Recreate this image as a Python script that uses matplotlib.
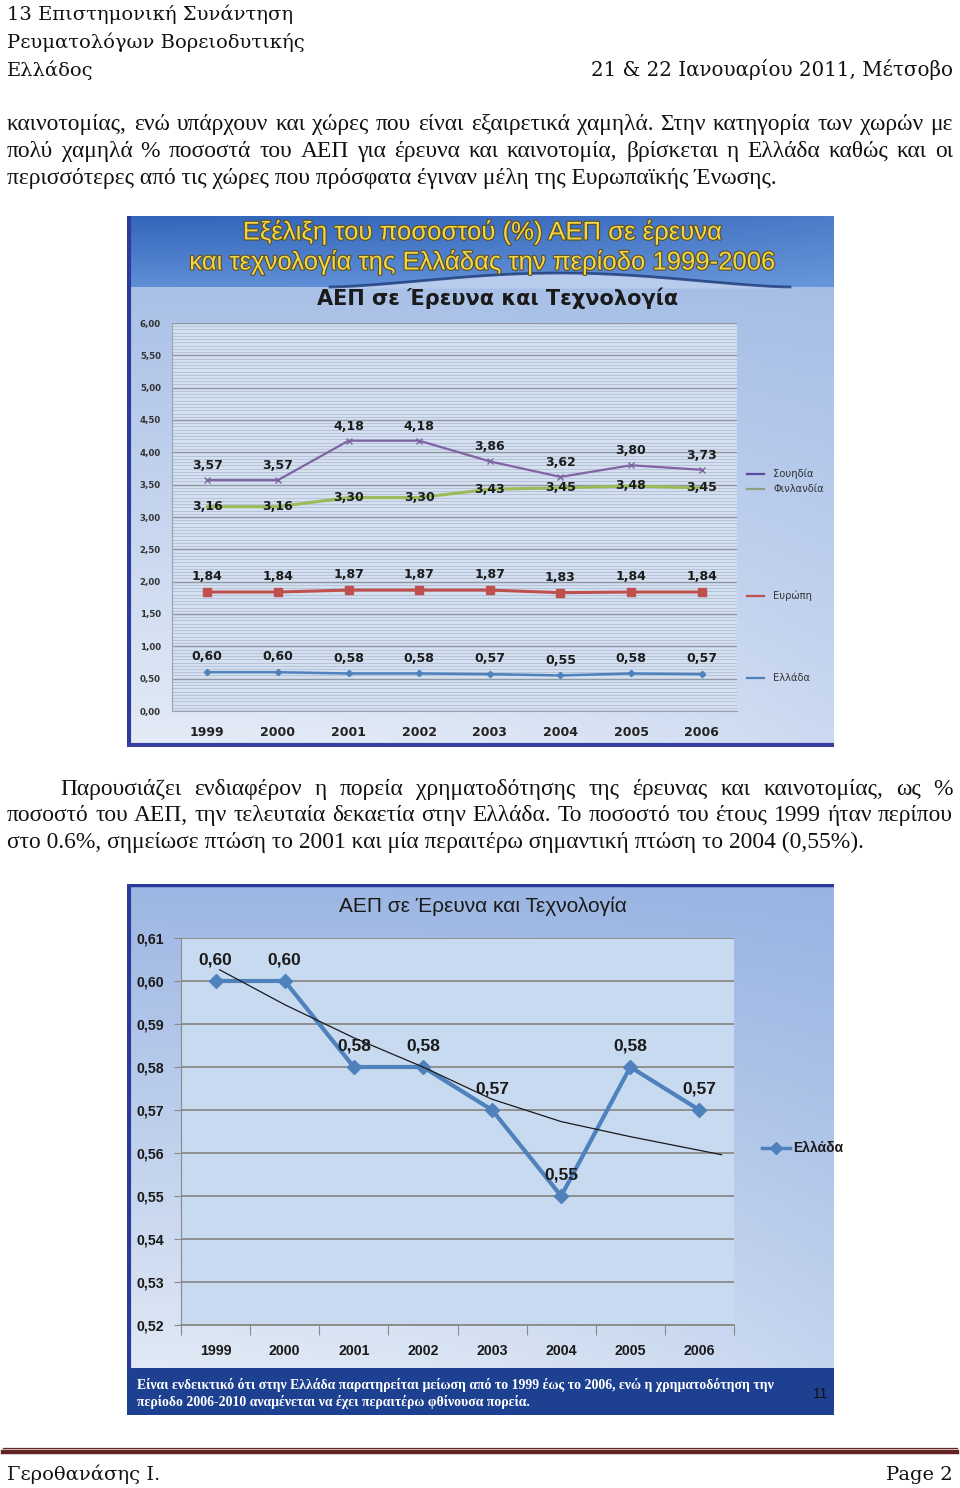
import matplotlib
matplotlib.use('Agg')
import matplotlib.pyplot as plt
import numpy as np
import matplotlib.patheffects as pe
from matplotlib.ticker import FuncFormatter, MultipleLocator, FixedLocator
from matplotlib.colors import to_rgb

# ---------------- data ----------------
years = ['1999', '2000', '2001', '2002', '2003', '2004', '2005', '2006']
sweden = [3.57, 3.57, 4.18, 4.18, 3.86, 3.62, 3.80, 3.73]
finland = [3.16, 3.16, 3.30, 3.30, 3.43, 3.45, 3.48, 3.45]
europe = [1.84, 1.84, 1.87, 1.87, 1.87, 1.83, 1.84, 1.84]
greece = [0.60, 0.60, 0.58, 0.58, 0.57, 0.55, 0.58, 0.57]
# trend line of chart 2 (x in years after 1999)
trend_pos = [0.06, 1.0, 2.0, 3.0, 4.0, 5.0, 6.0, 7.32]
trend_val = [0.6026, 0.5945, 0.5868, 0.5800, 0.5725, 0.5673, 0.5638, 0.5596]

series1_names = ['Σουηδία', 'Φινλανδία', 'Ευρώπη', 'Ελλάδα']

# ---------------- texts ----------------
header_left = ['13 Επιστημονική Συνάντηση', 'Ρευματολόγων Βορειοδυτικής', 'Ελλάδος']
header_right = '21 & 22 Ιανουαρίου 2011, Μέτσοβο'
para1 = ['καινοτομίας, ενώ υπάρχουν και χώρες που είναι εξαιρετικά χαμηλά. Στην κατηγορία των χωρών με',
         'πολύ χαμηλά % ποσοστά του ΑΕΠ για έρευνα και καινοτομία, βρίσκεται η Ελλάδα καθώς και οι',
         'περισσότερες από τις χώρες που πρόσφατα έγιναν μέλη της Ευρωπαϊκής Ένωσης.']
para2 = ['Παρουσιάζει ενδιαφέρον η πορεία χρηματοδότησης της έρευνας και καινοτομίας, ως %',
         'ποσοστό του ΑΕΠ, την τελευταία δεκαετία στην Ελλάδα. Το ποσοστό του έτους 1999 ήταν περίπου',
         'στο 0.6%, σημείωσε πτώση το 2001 και μία περαιτέρω σημαντική πτώση το 2004 (0,55%).']
band_title = ['Εξέλιξη του ποσοστού (%) ΑΕΠ σε έρευνα',
              'και τεχνολογία της Ελλάδας την περίοδο 1999-2006']
chart_title = 'ΑΕΠ σε Έρευνα και Τεχνολογία'
note_lines = ['Είναι ενδεικτικό ότι στην Ελλάδα παρατηρείται μείωση από το 1999 έως το 2006, ενώ η χρηματοδότηση την',
              'περίοδο 2006-2010 αναμένεται να έχει περαιτέρω φθίνουσα πορεία.']

W, H = 960, 1488
fig = plt.figure(figsize=(9.6, 14.88), dpi=100)
fig.patch.set_facecolor('white')
pg = fig.add_axes([0, 0, 1, 1], zorder=0)
pg.set_xlim(0, W); pg.set_ylim(H, 0); pg.axis('off')
renderer = fig.canvas.get_renderer()

SERIF_H = ['DejaVu Serif']
SERIF_B = ['Liberation Serif', 'DejaVu Serif']
SANS = ['Liberation Sans', 'DejaVu Sans']


def px_axes(l, t, r, b, z=1):
    return fig.add_axes([l / W, 1 - b / H, (r - l) / W, (b - t) / H], zorder=z)


def justify(line, y, x0, x1, **kw):
    words = line.split(' ')
    texts = [pg.text(0, y, w, va='baseline', ha='left', **kw) for w in words]
    widths = [t.get_window_extent(renderer).width for t in texts]
    gap = (x1 - x0 - sum(widths)) / max(len(words) - 1, 1)
    x = x0
    for t, w in zip(texts, widths):
        t.set_x(x)
        x += w + gap


# ---------------- header ----------------
for i, s in enumerate(header_left):
    pg.text(7, 20 + 28 * i, s, fontsize=14, family=SERIF_H, va='baseline', color='#111')
pg.text(953, 76, header_right, fontsize=14.3, family=SERIF_H, va='baseline', ha='right', color='#111')

# ---------------- paragraph 1 ----------------
body_kw = dict(fontsize=16.9, family=SERIF_B, color='#111')
justify(para1[0], 130, 7, 953, **body_kw)
justify(para1[1], 157, 7, 953, **body_kw)
pg.text(7, 184, para1[2], va='baseline', **body_kw)

# ---------------- paragraph 2 ----------------
justify(para2[0], 795, 60, 953, **body_kw)
justify(para2[1], 821, 7, 953, **body_kw)
pg.text(7, 848, para2[2], va='baseline', **body_kw)


def vgrad(c_top, c_bot, n=256, w=2, c_right=None):
    a = np.array(to_rgb(c_top)); b = np.array(to_rgb(c_bot))
    t = np.linspace(0, 1, n)[:, None, None]
    img = a * (1 - t) + b * t
    img = np.repeat(img, w, axis=1)
    if c_right is not None:
        r = np.array(to_rgb(c_right))
        s = np.linspace(0, 1, w)[None, :, None] ** 2
        img = img * (1 - 0.35 * s) + r * 0.35 * s
    return img


# ================= CHART 1 =================
bg1 = px_axes(127, 216, 834, 747, z=1)
bg1.set_xlim(127, 834); bg1.set_ylim(747, 216); bg1.axis('off')
bg1.imshow(vgrad('#a9c0e7', '#e4ebf6', w=64, c_right='#9fb9e6'), extent=(127, 834, 747, 285),
           aspect='auto', interpolation='bilinear', zorder=0)
bg1.imshow(vgrad('#3466bb', '#5f8fd6', w=64, c_right='#7aa3e0'), extent=(127, 834, 287, 216),
           aspect='auto', interpolation='bilinear', zorder=1)
# decorative swoosh
xs = np.linspace(330, 790, 200)
ys = 287 - 14 * np.sin(np.pi * (xs - 330) / 460) ** 1.5
bg1.fill_between(xs, ys, 288, color='#b7cbec', zorder=2, lw=0)
bg1.plot(xs, ys, color='#1f3b7a', lw=2.0, zorder=3, alpha=0.8)
bg1.plot([128.5, 128.5], [216, 747], color='#2c3c9c', lw=3, zorder=4)
bg1.plot([127, 834], [745, 745], color='#35409f', lw=3, zorder=4)

for i, s in enumerate(band_title):
    bg1.text(483, 232 + 30 * i, s, ha='center', va='center', fontsize=18.5,
             family=['Liberation Sans Narrow', 'Liberation Sans'], color='#f2d645', zorder=5,
             path_effects=[pe.withStroke(linewidth=1.6, foreground='#5b4f22')])
bg1.text(498, 298, chart_title, ha='center', va='center', fontsize=15, fontweight='bold',
         family=['DejaVu Sans'], color='#1a1a1a', zorder=5)

ax1 = px_axes(172, 323, 737, 711, z=3)
ax1.set_facecolor('#d4e0ef')
ax1.set_xlim(0, 8); ax1.set_ylim(0, 6)
xc = np.arange(len(years)) + 0.5
ax1.yaxis.set_major_locator(MultipleLocator(0.5))
ax1.yaxis.set_minor_locator(MultipleLocator(0.05))
ax1.grid(True, which='minor', axis='y', color='#b0bfd4', lw=0.6)
ax1.grid(True, which='major', axis='y', color='#8d97a5', lw=1.0)
ax1.set_axisbelow(True)
ax1.yaxis.set_major_formatter(FuncFormatter(lambda v, p: f'{v:.2f}'.replace('.', ',')))
ax1.tick_params(axis='y', which='both', length=0, pad=8, labelsize=6.2, labelcolor='#333')
for lb in ax1.get_yticklabels():
    lb.set_fontweight('bold')
ax1.set_xticks(xc)
ax1.set_xticklabels(years, fontsize=9, fontweight='bold', color='#222')
ax1.tick_params(axis='x', length=0, pad=11)
for sp in ['top', 'right']:
    ax1.spines[sp].set_visible(False)
ax1.spines['left'].set_color('#9aa3b0'); ax1.spines['bottom'].set_color('#9aa3b0')

ax1.plot(xc, sweden, color='#8064a2', lw=1.6, marker='x', ms=5, mew=1, zorder=4)
ax1.plot(xc, finland, color='#9bbb59', lw=2.2, zorder=4)
ax1.plot(xc, europe, color='#c0504d', lw=2.2, marker='s', ms=5.5, zorder=4)
ax1.plot(xc, greece, color='#4f81bd', lw=1.8, marker='D', ms=3.2, zorder=4)

lab_kw = dict(ha='center', va='center', fontsize=9, fontweight='bold', color='#1c1c1c',
              family=['DejaVu Sans'], textcoords='offset points', zorder=6)
fmt = lambda v: f'{v:.2f}'.replace('.', ',')
for i in range(len(years)):
    ax1.annotate(fmt(sweden[i]), (xc[i], sweden[i]), xytext=(0, 10.5), **lab_kw)
    ax1.annotate(fmt(finland[i]), (xc[i], finland[i]), xytext=(0, 0), **lab_kw)
    ax1.annotate(fmt(europe[i]), (xc[i], europe[i]), xytext=(0, 11), **lab_kw)
    ax1.annotate(fmt(greece[i]), (xc[i], greece[i]), xytext=(0, 11), **lab_kw)

leg1 = [(series1_names[0], '#5b4a9e', 474), (series1_names[1], '#8f9f86', 489),
        (series1_names[2], '#c0504d', 596), (series1_names[3], '#4f81bd', 678)]
for name, col, yy in leg1:
    bg1.plot([747, 764], [yy, yy], color=col, lw=1.6, zorder=5)
    bg1.text(773, yy, name, va='center', ha='left', fontsize=7.2, color='#333',
             family=['DejaVu Sans'], zorder=5)

# ================= CHART 2 =================
bg2 = px_axes(127, 884, 834, 1415, z=1)
bg2.set_xlim(127, 834); bg2.set_ylim(1415, 884); bg2.axis('off')
bg2.imshow(vgrad('#9cb6e3', '#e0e9f5', w=64, c_right='#90afe2'), extent=(127, 834, 1368, 884),
           aspect='auto', interpolation='bilinear', zorder=0)
bg2.fill_between([127, 834], 1368, 1415, color='#1d4190', lw=0, zorder=1)
bg2.plot([127, 834], [885, 885], color='#2b3b9a', lw=2.5, zorder=4)
bg2.plot([128.5, 128.5], [884, 1368], color='#2b3b9a', lw=3, zorder=4)
bg2.text(483, 906, chart_title, ha='center', va='center', fontsize=15,
         family=SANS, color='#1a1a1a', zorder=5)
for i, s in enumerate(note_lines):
    bg2.text(137, 1385 + 17 * i, s, ha='left', va='center', fontsize=9.9, fontweight='bold',
             family=SERIF_B, color='white', zorder=5)
bg2.text(820, 1394, '11', ha='center', va='center', fontsize=10, family=SANS, color='#111', zorder=5)

ax2 = px_axes(181, 938, 734, 1325, z=3)
ax2.set_facecolor('#c8daf0')
ax2.set_xlim(0, 8); ax2.set_ylim(0.52, 0.61)
yt = [0.52, 0.53, 0.54, 0.55, 0.56, 0.57, 0.58, 0.59, 0.60, 0.61]
ax2.yaxis.set_major_locator(FixedLocator(yt))
ax2.yaxis.set_major_formatter(FuncFormatter(lambda v, p: f'{v:.2f}'.replace('.', ',')))
ax2.grid(True, axis='y', color='#8a8a8a', lw=1.3)
ax2.set_axisbelow(True)
ax2.tick_params(axis='y', direction='out', length=5, color='#8a8a8a', pad=7, labelsize=10.2,
                labelcolor='#1a1a1a')
for lb in ax2.get_yticklabels():
    lb.set_fontweight('bold'); lb.set_family(SANS)
ax2.set_xticks(np.arange(9))
ax2.set_xticklabels([''] * 9)
ax2.tick_params(axis='x', which='major', direction='out', length=7, color='#8a8a8a')
ax2.set_xticks(xc, minor=True)
ax2.set_xticklabels(years, minor=True, fontsize=10.2, fontweight='bold', color='#1a1a1a', family=SANS)
ax2.tick_params(axis='x', which='minor', length=0, pad=14)
for sp in ['top', 'right']:
    ax2.spines[sp].set_visible(False)
ax2.spines['left'].set_color('#8a8a8a'); ax2.spines['bottom'].set_color('#8a8a8a')
ax2.spines['bottom'].set_linewidth(1.3)

ax2.plot(xc, greece, color='#4f81bd', lw=3, marker='D', ms=7, zorder=5, clip_on=False)
ax2.plot(np.array(trend_pos) + 0.5, trend_val, color='#1a1a1a', lw=0.9, zorder=6)
for i in range(len(years)):
    ax2.annotate(fmt(greece[i]), (xc[i], greece[i]), xytext=(0, 15), textcoords='offset points',
                 ha='center', va='center', fontsize=12.5, fontweight='bold', color='#1a1a1a',
                 family=SANS, zorder=7)

bg2.plot([762, 790], [1148, 1148], color='#4f81bd', lw=2.5, zorder=5)
bg2.plot([776], [1148], marker='D', ms=6, color='#4f81bd', zorder=6)
bg2.text(793, 1148, 'Ελλάδα', va='center', ha='left', fontsize=10, fontweight='bold',
         family=SANS, color='#1a1a1a', zorder=5)

# ---------------- footer ----------------
pg.plot([3, 957], [1447.5, 1447.5], color='#632523', lw=0.9)
pg.plot([3, 957], [1451.8, 1451.8], color='#632523', lw=3.2)
pg.text(7, 1480, 'Γεροθανάσης Ι.', fontsize=14, family=SERIF_H, va='baseline', color='#111')
pg.text(953, 1480, 'Page 2', fontsize=14, family=SERIF_H, va='baseline', ha='right', color='#111')

fig.savefig('out.png', dpi=100)
